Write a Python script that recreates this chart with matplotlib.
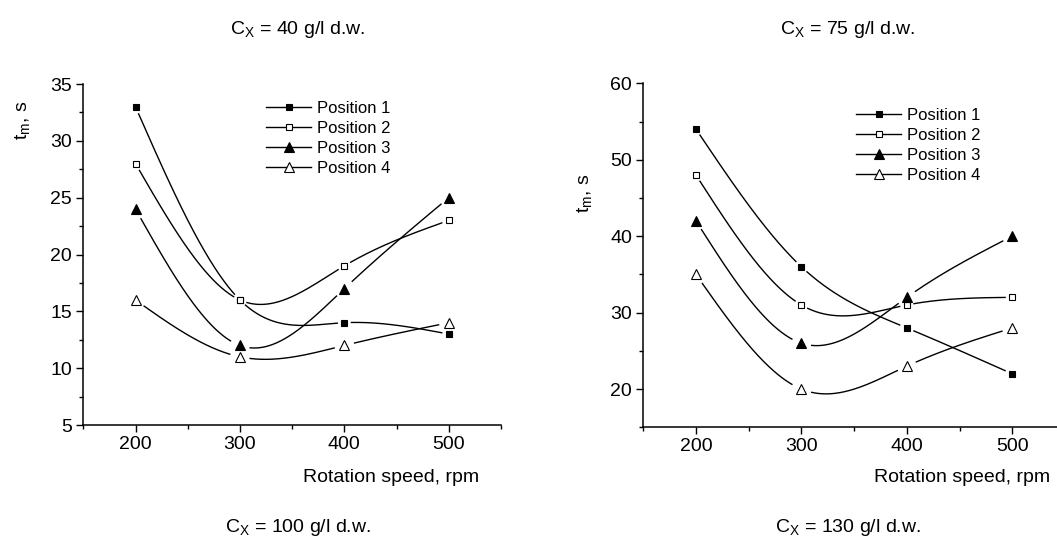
import numpy as np
import matplotlib.pyplot as plt
from matplotlib.lines import Line2D
from matplotlib.ticker import MultipleLocator

plt.rcParams['font.family'] = ['Liberation Sans', 'DejaVu Sans']

# data
speed = [200, 300, 400, 500]
labels = ['Position 1', 'Position 2', 'Position 3', 'Position 4']

p1_40 = [33, 16, 14, 13]
p2_40 = [28, 16, 19, 23]
p3_40 = [24, 12, 17, 25]
p4_40 = [16, 11, 12, 14]

p1_75 = [54, 36, 28, 22]
p2_75 = [48, 31, 31, 32]
p3_75 = [42, 26, 32, 40]
p4_75 = [35, 20, 23, 28]

markers = ['s', 's', '^', '^']
fills = ['black', 'white', 'black', 'white']
msizes = [4.2, 4.2, 6.5, 6.5]
gaps = [7, 7, 10, 10]


def natural_spline(x, y, xs):
    x = np.asarray(x, float)
    y = np.asarray(y, float)
    n = len(x)
    h = np.diff(x)
    A = np.zeros((n, n))
    b = np.zeros(n)
    A[0, 0] = 1
    A[-1, -1] = 1
    for i in range(1, n - 1):
        A[i, i - 1] = h[i - 1]
        A[i, i] = 2 * (h[i - 1] + h[i])
        A[i, i + 1] = h[i]
        b[i] = 3 * ((y[i + 1] - y[i]) / h[i] - (y[i] - y[i - 1]) / h[i - 1])
    c = np.linalg.solve(A, b)
    idx = np.clip(np.searchsorted(x, xs) - 1, 0, n - 2)
    dx = xs - x[idx]
    bb = (y[idx + 1] - y[idx]) / h[idx] - h[idx] * (2 * c[idx] + c[idx + 1]) / 3
    dd = (c[idx + 1] - c[idx]) / (3 * h[idx])
    return y[idx] + bb * dx + c[idx] * dx ** 2 + dd * dx ** 3


def draw_panel(ax, series, ylim, ymajor, yminor):
    ax.set_xlim(150, 550)
    ax.set_ylim(*ylim)
    ax.set_xticks([200, 300, 400, 500])
    ax.xaxis.set_minor_locator(MultipleLocator(50))
    ax.yaxis.set_major_locator(MultipleLocator(ymajor))
    ax.yaxis.set_minor_locator(MultipleLocator(yminor))
    for s in ['top', 'right']:
        ax.spines[s].set_visible(False)
    for s in ['left', 'bottom']:
        ax.spines[s].set_linewidth(1.1)
    ax.tick_params(which='major', direction='out', length=5, width=1.0, labelsize=14, pad=3)
    ax.tick_params(which='minor', direction='out', length=3, width=1.0)

    # spline through the points, with a small gap left around each symbol
    for y, m, fc, ms, gap in zip(series, markers, fills, msizes, gaps):
        xs = np.linspace(200, 500, 400)
        ys = natural_spline(speed, y, xs)
        pix = ax.transData.transform(np.column_stack([xs, ys]))
        pts = ax.transData.transform(np.column_stack([speed, y]))
        d = np.min(np.hypot(pix[:, None, 0] - pts[None, :, 0],
                            pix[:, None, 1] - pts[None, :, 1]), axis=1)
        ys = np.where(d < gap, np.nan, ys)
        ax.plot(xs, ys, color='black', lw=1.0)
        ax.plot(speed, y, ls='none', marker=m, mfc=fc, mec='black', ms=ms, mew=0.8)


fig = plt.figure(figsize=(10.57, 5.47), dpi=100)

ax1 = fig.add_axes([0.0788, 0.2230, 0.3952, 0.6234])
ax2 = fig.add_axes([0.6086, 0.2188, 0.3989, 0.6289])

draw_panel(ax1, [p1_40, p2_40, p3_40, p4_40], (5, 35), 5, 2.5)
draw_panel(ax2, [p1_75, p2_75, p3_75, p4_75], (15, 60), 10, 5)

handles = [Line2D([], [], color='black', lw=1.0, marker=m, mfc=fc, mec='black', ms=ms, mew=0.8)
           for m, fc, ms in zip(markers, fills, msizes)]
for ax, anchor in [(ax1, (266 / 1057, 1 - 101 / 547)), (ax2, (856 / 1057, 1 - 107.5 / 547))]:
    ax.legend(handles, labels, loc='upper left', bbox_to_anchor=anchor,
              bbox_transform=fig.transFigure, frameon=False, fontsize=12,
              borderpad=0, borderaxespad=0, handlelength=2.7, handletextpad=0.35,
              labelspacing=0.3, numpoints=1)

# axis labels
fig.text(391 / 1057, 1 - 477 / 547, 'Rotation speed, rpm', ha='center', va='center', fontsize=14)
fig.text(962 / 1057, 1 - 477 / 547, 'Rotation speed, rpm', ha='center', va='center', fontsize=14)
fig.text(23 / 1057, 1 - 120 / 547, r't$_\mathregular{m}$, s', rotation=90, ha='center', va='center', fontsize=14)
fig.text(585 / 1057, 1 - 193 / 547, r't$_\mathregular{m}$, s', rotation=90, ha='center', va='center', fontsize=14)

# concentration captions
fig.text(298 / 1057, 1 - 30 / 547, r'C$_\mathregular{X}$ = 40 g/l d.w.', ha='center', va='center', fontsize=14)
fig.text(848 / 1057, 1 - 30 / 547, r'C$_\mathregular{X}$ = 75 g/l d.w.', ha='center', va='center', fontsize=14)
fig.text(298 / 1057, 1 - 528 / 547, r'C$_\mathregular{X}$ = 100 g/l d.w.', ha='center', va='center', fontsize=14)
fig.text(848 / 1057, 1 - 528 / 547, r'C$_\mathregular{X}$ = 130 g/l d.w.', ha='center', va='center', fontsize=14)

fig.savefig('out.png', dpi=100)
